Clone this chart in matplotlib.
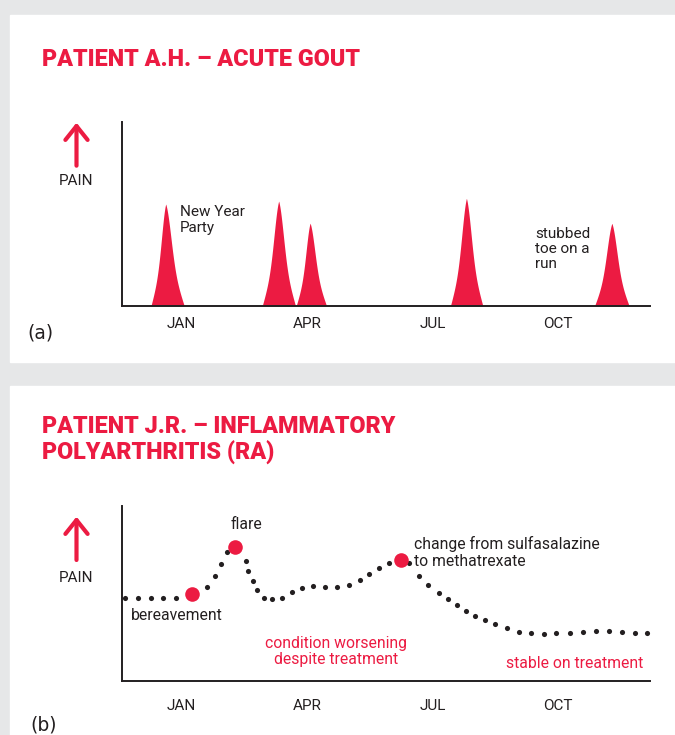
import numpy as np
import matplotlib.pyplot as plt
from matplotlib.patches import Rectangle, FancyArrowPatch

# colours and fonts
RED = '#EC1B42'
INK = '#231F20'
plt.rcParams['font.family'] = ['Roboto', 'DejaVu Sans']

# month positions: JAN = 0 ... DEC = 11
month_ticks = [0, 3, 6, 9]
month_labels = ['JAN', 'APR', 'JUL', 'OCT']

# panel (a): acute gout attacks (centre month, height, rise width, fall width)
peak_month = [-0.365, 2.33, 3.08, 6.81, 10.28]
peak_height = [0.553, 0.569, 0.449, 0.584, 0.448]
peak_rise = [0.35, 0.39, 0.33, 0.38, 0.41]
peak_fall = [0.44, 0.40, 0.39, 0.39, 0.41]

# panel (b): pain through the year for RA patient
dot_month = [-1.34, -1.03, -0.72, -0.42, -0.11, 0.61, 0.80, 0.95, 1.10,
             1.54, 1.61, 1.71, 1.81, 1.97, 2.18, 2.41, 2.65, 2.89, 3.15,
             3.44, 3.72, 4.02, 4.26, 4.48, 4.72, 4.96, 5.44, 5.67, 5.90,
             6.16, 6.36, 6.59, 6.81, 7.02, 7.26, 7.49, 7.77, 8.06, 8.34,
             8.65, 8.95, 9.27, 9.58, 9.89, 10.20, 10.51, 10.84, 11.13]
dot_pain = [0.474, 0.474, 0.474, 0.474, 0.474, 0.537, 0.598, 0.667, 0.734,
            0.682, 0.625, 0.571, 0.518, 0.474, 0.469, 0.474, 0.505, 0.530,
            0.539, 0.537, 0.535, 0.545, 0.574, 0.610, 0.642, 0.671, 0.674,
            0.600, 0.547, 0.503, 0.465, 0.433, 0.400, 0.371, 0.347, 0.322,
            0.299, 0.280, 0.271, 0.269, 0.271, 0.273, 0.276, 0.284, 0.286,
            0.280, 0.271, 0.271]
event_month = [0.27, 1.28, 5.26]
event_pain = [0.495, 0.764, 0.690]

W, H = 675, 735
fig = plt.figure(figsize=(W / 100, H / 100), dpi=100)
fig.patch.set_facecolor('#E6E7E8')


def fx(px):
    return px / W


def fy(py):
    return 1 - py / H


# white cards
fig.add_artist(Rectangle((fx(10), fy(362)), 1 - fx(10), fy(15) - fy(362),
                         transform=fig.transFigure, color='white', zorder=0))
fig.add_artist(Rectangle((fx(10), 0), 1 - fx(10), fy(386),
                         transform=fig.transFigure, color='white', zorder=0))


def spike(x, c, h, rise, fall):
    # sharp attack profile: rounded top with near-linear flanks
    u = np.where(x < c, (x - c) / rise, (x - c) / fall)
    u = np.abs(u)
    shape = 0.45 * np.exp(-(u / 0.4) ** 2) + 0.55 * (1 - u)
    return np.where(u < 1, h * np.clip(shape, 0, None), 0.0)


def setup_axes(ax, pad):
    ax.set_xlim(-1.408, 11.19)
    ax.set_ylim(0, 1)
    for s in ['top', 'right']:
        ax.spines[s].set_visible(False)
    for s in ['left', 'bottom']:
        ax.spines[s].set_linewidth(1.4)
        ax.spines[s].set_color(INK)
    ax.set_yticks([])
    ax.set_xticks(month_ticks)
    ax.set_xticklabels(month_labels)
    ax.tick_params(axis='x', length=0, pad=pad, labelsize=11, labelcolor=INK)
    ax.patch.set_alpha(0)


def pain_arrow(y_bottom, y_top, y_label):
    arrow = FancyArrowPatch((fx(76.5), fy(y_bottom)), (fx(76.5), fy(y_top)),
                            transform=fig.transFigure, color=RED, lw=3.0,
                            arrowstyle='->,head_length=1.0,head_width=0.8',
                            mutation_scale=10, shrinkA=0, shrinkB=0)
    fig.add_artist(arrow)
    fig.text(fx(76.5), fy(y_label), 'PAIN', ha='center', va='center',
             fontsize=11, color=INK)


title_font = dict(fontsize=16.8, fontweight='heavy', color=RED)

# ---- panel (a) ----
fig.text(fx(42), fy(60), 'PATIENT A.H. \u2013 ACUTE GOUT', ha='left', va='center',
         **title_font)
ax1 = fig.add_axes([fx(122), fy(305.7), fx(650) - fx(122), fy(121.7) - fy(305.7)])
setup_axes(ax1, 8)
xs = np.linspace(-1.408, 11.19, 3000)
pain_a = np.zeros_like(xs)
for c, h, r, f in zip(peak_month, peak_height, peak_rise, peak_fall):
    pain_a = np.maximum(pain_a, spike(xs, c, h, r, f))
ax1.fill_between(xs, 0, pain_a, color=RED, lw=0)
ax1.text(-0.02, 0.466, 'New Year\nParty', ha='left', va='center',
         fontsize=11, color=INK, linespacing=1.1)
ax1.text(8.45, 0.308, 'stubbed\ntoe on a\nrun', ha='left', va='center',
         fontsize=11, color=INK, linespacing=1.1)
pain_arrow(165.7, 122.7, 181)
fig.text(fx(40), fy(333), '(a)', ha='center', va='center', fontsize=13.5,
         color=INK, family=['DejaVu Sans'])

# ---- panel (b) ----
fig.text(fx(42), fy(440), 'PATIENT J.R. \u2013 INFLAMMATORY\nPOLYARTHRITIS (RA)',
         ha='left', va='center', linespacing=1.15, **title_font)
ax2 = fig.add_axes([fx(122), fy(680.7), fx(650) - fx(122), fy(505.7) - fy(680.7)])
setup_axes(ax2, 13)
ax2.plot(dot_month, dot_pain, 'o', color=INK, ms=3.7, mew=0)
ax2.plot(event_month, event_pain, 'o', color=RED, ms=10.5, mew=0, clip_on=False)
ax2.text(1.55, 0.895, 'flare', ha='center', va='center', fontsize=11.3, color=INK)
ax2.text(-1.19, 0.37, 'bereavement', ha='left', va='center', fontsize=11.3,
         color=INK)
ax2.text(5.56, 0.734, 'change from sulfasalazine\nto methatrexate', ha='left',
         va='center', fontsize=11.3, color=INK, linespacing=1.15)
ax2.text(3.69, 0.166, 'condition worsening\ndespite treatment', ha='center',
         va='center', fontsize=11.3, color=RED, linespacing=1.1)
ax2.text(11.02, 0.10, 'stable on treatment', ha='right', va='center',
         fontsize=11.3, color=RED)
pain_arrow(560, 516.7, 578)
fig.text(fx(44), fy(725), '(b)', ha='center', va='center', fontsize=13.5,
         color=INK, family=['DejaVu Sans'])

fig.savefig('out.png', dpi=100, facecolor=fig.get_facecolor())
